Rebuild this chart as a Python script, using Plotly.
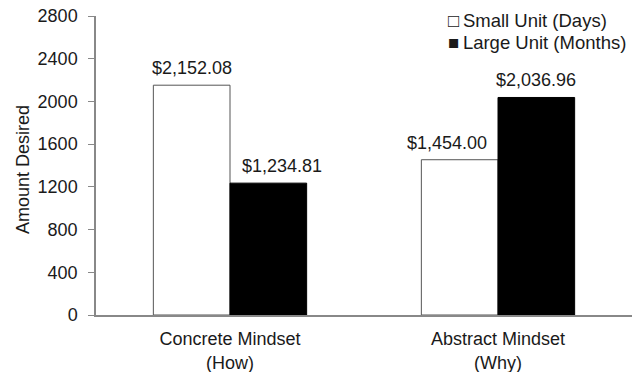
import plotly.graph_objects as go

categories = ["Concrete Mindset<br>(How)", "Abstract Mindset<br>(Why)"]
series_names = ["Small Unit (Days)", "Large Unit (Months)"]
small_unit = [2152.08, 1454.00]
large_unit = [1234.81, 2036.96]
y_ticks = [0, 400, 800, 1200, 1600, 2000, 2400, 2800]

font = dict(family="Liberation Sans, Arial, sans-serif", size=18, color="#1a1a1a")
key_font = dict(font, size=18.5)
bargap = 0.428

# plot area in pixels
W, H = 638, 372
ML, MR, MT, MB = 96, 6, 16, 57
plot_w = W - ML - MR
plot_h = H - MT - MB

def px_to_paper(x, y):
    return (x - ML) / plot_w, (H - y - MB) / plot_h

fig = go.Figure()
fig.add_trace(go.Bar(
    name=series_names[0], x=categories, y=small_unit,
    marker=dict(color="white", line=dict(color="#555555", width=1)),
    showlegend=False,
))
fig.add_trace(go.Bar(
    name=series_names[1], x=categories, y=large_unit,
    marker=dict(color="black", line=dict(color="black", width=1)),
    showlegend=False,
))

# value labels above each bar, offset to the bar's slot in its group;
# the two lower labels are nudged sideways so they clear the taller neighbour
bar_offset = (1 - bargap) / 4
label_nudge = {(0, 1): 14, (1, 0): -13}
annotations = []
for s, (series, sign) in enumerate(((small_unit, -1), (large_unit, 1))):
    for i, v in enumerate(series):
        annotations.append(dict(
            x=i + sign * bar_offset, y=v, xref="x", yref="y",
            text=f"${v:,.2f}", showarrow=False,
            xanchor="center", yanchor="bottom", yshift=5,
            xshift=label_nudge.get((i, s), 0), font=font,
        ))

# legend drawn as text keys in the upper right
for name, key, ypos in ((series_names[0], "\u25a1", 21), (series_names[1], "\u25a0", 42)):
    px, py = px_to_paper(446, ypos)
    annotations.append(dict(
        x=px, y=py, xref="paper", yref="paper",
        text=f"{key}\u2009{name}", showarrow=False,
        xanchor="left", yanchor="middle", font=key_font,
    ))

# y-axis title
tx, ty = px_to_paper(23, 170)
annotations.append(dict(
    x=tx, y=ty, xref="paper", yref="paper", text="Amount Desired",
    textangle=-90, showarrow=False, xanchor="center", yanchor="middle",
    font=font,
))

fig.update_layout(
    width=W, height=H,
    margin=dict(l=ML, r=MR, t=MT, b=MB),
    paper_bgcolor="white", plot_bgcolor="white",
    font=font,
    barmode="group", bargap=bargap, bargroupgap=0,
    showlegend=False,
    annotations=annotations,
    xaxis=dict(showline=True, linecolor="#888888", linewidth=1.5,
               ticks="", showgrid=False, tickfont=font,
               ticklabelstandoff=7, automargin=False),
    yaxis=dict(range=[0, 2800], tickvals=y_ticks, showline=True,
               linecolor="#888888", linewidth=1.5, ticks="outside",
               tickcolor="#888888", ticklen=6, showgrid=False,
               zeroline=False, tickfont=font, ticklabelstandoff=7,
               automargin=False),
)

fig.write_html("out.html")
